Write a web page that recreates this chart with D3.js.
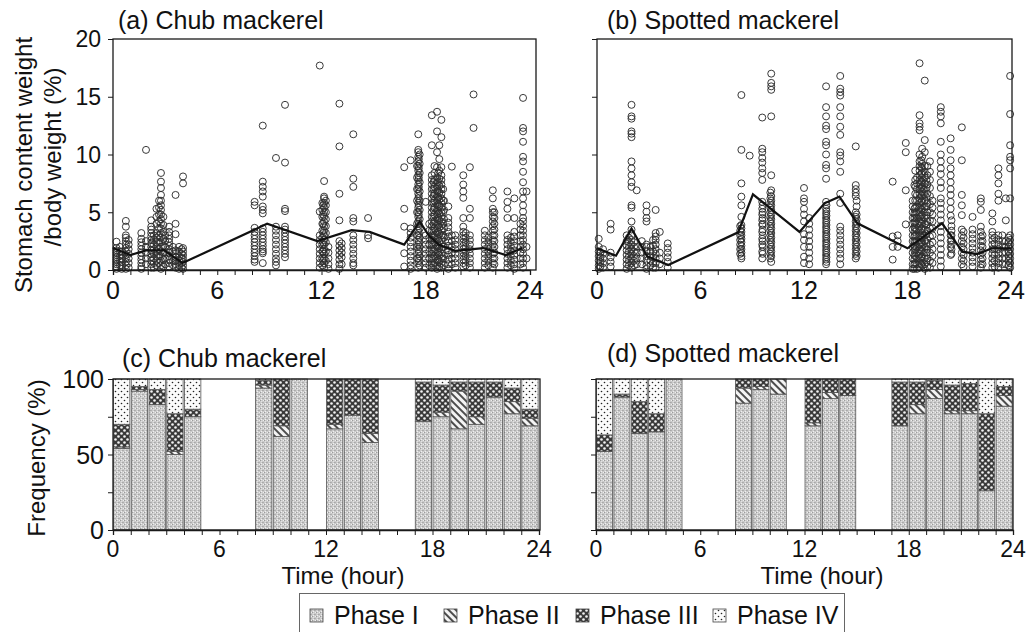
<!DOCTYPE html>
<html><head><meta charset="utf-8">
<script src="https://cdn.jsdelivr.net/npm/d3@7"></script>
<style>
body{margin:0;background:#fff}
text{font-family:"Liberation Sans",Arial,sans-serif;fill:#111}
</style>
</head><body>
<svg id="chart" width="1033" height="632"></svg>
<script>
// ---------- tick labels / categories ----------
const hourTicks = [0, 6, 12, 18, 24];
const hourMinor = [0,1,2,3,4,5,6,7,8,9,10,11,12,13,14,15,16,17,18,19,20,21,22,23,24];
const stomachTicks = [0, 5, 10, 15, 20];
const freqTicks = [0, 50, 100];
const freqMinor = [25, 75];
const phases = ["Phase I", "Phase II", "Phase III", "Phase IV"];

// ---------- (a) Chub mackerel: individual stomach content (%), by sampling time ----------
const chubTimes = [0.2,0.5,0.74,1.63,1.9,2.2,2.5,2.76,3.0,3.23,3.6,3.8,4.03,
  8.15,8.62,9.38,9.9,11.9,12.15,12.4,13.03,13.16,13.83,14.68,
  16.76,17.13,17.57,18.0,18.35,18.65,18.9,19.3,19.5,20.16,20.54,20.75,21.4,21.86,22.7,23.1,23.6,23.8,
  0.4,0.9,2.35,2.65,2.9,3.45,3.95,12.05,12.25,17.5,17.65,18.2,18.5,18.78,19.05,19.7,20.3,21.6,21.95,22.9,23.45,
  17.6,18.45,18.72,19.0,12.1];
const chubValues = [
  [2.45,1.9,1.7,1.5,1.3,1.1,0.9,0.7,0.5,0.3,0.1],
  [1.6,1.3,1.0,0.7,0.4,0.1],
  [4.25,3.75,3.0,2.8,2.5,2.2,1.9,1.6,1.3,1.0,0.7,0.4,0.1],
  [3.2,2.7,2.4,2.1,1.8,1.5,1.2,0.9,0.6,0.3,0.1],
  [10.4,2.5,2.0,1.5,1.0,0.5],
  [4.3,3.75,3.5,3.2,2.9,2.6,2.3,2.0,1.7,1.4,1.1,0.8,0.5,0.2],
  [5.3,4.6,4.0,3.2,2.8,2.4,2.0,1.6,1.2,0.8,0.4],
  [8.4,7.65,7.1,6.5,6.0,5.6,5.2,4.8,4.4,4.0,3.6,3.2,2.8,2.4,2.0,1.6,1.2,0.8,0.4,0.1],
  [3.0,2.5,2.0,1.5,1.0,0.5],
  [3.75,3.3,3.0,2.7,2.4,2.1,1.8,1.5,1.2,0.9,0.6,0.3],
  [6.5,4.0,3.1,1.7,1.4,1.1,0.8,0.5,0.2],
  [2.0,1.6,1.2,0.8,0.4,0.1],
  [8.1,7.5,1.9,1.6,1.3,1.0,0.7,0.4,0.1],
  [5.9,5.6,3.65,3.3,3.0,2.7,2.4,2.1,1.8,1.5,1.2,0.9,0.7],
  [12.5,7.65,7.2,6.8,6.35,5.5,5.2,4.9,3.6,3.3,3.0,2.7,2.4,2.1,1.8,1.6,1.45,0.6],
  [9.7,3.75,3.4,3.0,2.6,2.2,1.8,1.4,1.0,0.7,0.4],
  [14.3,9.3,5.3,5.1,3.75,3.5,3.2,2.9,2.6,2.3,2.0,1.7,1.4,1.1],
  [17.7,5.05,3.0,2.6,2.2,1.8,1.4,1.0,0.6,0.2],
  [7.7,6.35,6.2,5.8,5.4,5.0,4.6,4.2,3.8,3.4,3.0,2.6,2.2,1.8,1.4,1.0,0.6,0.2],
  [2.0,1.5,1.0,0.5,0.1],
  [14.4,10.7,6.6,4.3,2.5,2.1,1.7,1.3,0.9,0.5,0.1],
  [2.3,1.9,1.5,1.1,0.5],
  [11.75,7.9,7.2,4.5,4.2,3.0,2.6,2.2,1.8,1.4,1.0,0.6,0.4],
  [4.5,3.0,2.75],
  [8.9,5.3,3.75,1.45,0.3],
  [9.5,3.6,3.2,2.8,2.4,2.0,1.6,1.2,0.8,0.4,0.1],
  [11.75,10.4,10.2,9.8,9.4,9.0,8.6,8.2,7.8,7.4,7.0,6.6,6.2,5.8,5.4,5.0,4.6,4.2,3.8,3.4,3.0,2.6,2.2,1.8,1.4,1.0,0.6,0.2],
  [5.9,3.0,2.6,2.2,1.8,1.4,1.0,0.6,0.2],
  [13.4,10.8,8.2,7.8,7.4,7.0,6.6,6.2,5.8,5.4,5.0,4.6,4.2,3.8,3.4,3.0,2.6,2.2,1.8,1.4,1.0,0.6,0.2],
  [13.7,12.0,10.2,8.9,8.0,7.6,7.2,6.8,6.4,6.0,5.6,5.2,4.8,4.4,4.0,3.6,3.2,2.8,2.4,2.0,1.6,1.2,0.8,0.4,0.1],
  [13.0,11.5,8.9,8.2,7.8,7.4,7.0,6.6,6.2,5.8,5.4,5.0,4.6,4.2,3.8,3.4,3.0,2.6,2.2,1.8,1.4,1.0,0.6,0.2],
  [5.5,4.5,4.1,3.7,3.3,2.9,2.5,2.1,1.7,1.3,0.9,0.5,0.1],
  [8.95,3.0,2.5,2.0,1.5,1.0,0.5],
  [8.2,7.4,6.8,6.25,4.5,3.75,3.3,3.0,2.7,2.4,2.1,1.8,1.5,1.2,0.9,0.6,0.3],
  [8.9,5.3,4.5,3.0,2.6,2.2,1.8,1.4,1.0,0.6,0.2],
  [15.2,12.3],
  [3.4,3.0,2.6,2.2,1.8,1.4,1.0,0.6,0.2],
  [6.9,6.2,5.3,5.0,4.6,4.2,3.8,3.4,3.0,2.6,2.2,1.8,1.4,1.0,0.6,0.2],
  [6.8,5.9,5.3,4.5,3.0,2.6,2.2,1.8,1.4,1.0,0.6,0.2],
  [6.2,4.5,3.3,2.9,2.5,2.1,1.7,1.3,0.9,0.5,0.1],
  [14.9,12.3,12.0,11.1,9.8,9.4,8.5,7.6,6.8,6.2,5.6,5.05,4.5,4.2,3.8,3.4,3.0,2.6,2.2,1.8,1.4,1.0,0.6,0.2],
  [6.8,2.0,1.0],
  [2.0,1.6,1.2,0.8,0.4],
  [2.6,2.2,1.8,1.4,1.0,0.6,0.2],
  [3.0,2.6,2.2,1.8,1.4,1.0,0.6,0.2],
  [6.0,5.4,4.8,4.2,3.6,3.0,2.4,1.8,1.2,0.6],
  [4.6,3.9,3.3,2.7,2.1,1.5,0.9,0.3],
  [2.0,1.6,1.2,0.8,0.4],
  [1.8,1.4,1.0,0.6,0.2],
  [5.8,5.2,4.6,4.0,3.4,2.8,2.2,1.6,1.0,0.4],
  [6.0,5.6,5.0,4.4,3.8,3.2,2.4,1.6,0.8],
  [9.0,8.0,7.0,6.0,5.0,4.0,3.0,2.0,1.0],
  [10.0,9.2,8.4,7.6,6.8,6.0,5.2,4.4,3.6,2.8,2.0,1.2,0.4],
  [4.0,3.4,2.8,2.2,1.6,1.0,0.4],
  [9.0,8.4,7.8,7.2,6.6,6.0,5.4,4.8,4.2,3.6,3.0,2.4,1.8,1.2,0.6],
  [10.8,9.6,8.6,7.9,7.3,6.7,6.1,5.5,4.9,4.3,3.7,3.1,2.5,1.9,1.3,0.7,0.3],
  [6.0,5.2,4.4,3.6,2.8,2.0,1.2,0.4],
  [3.0,2.6,2.2,1.8,1.4,1.0,0.6,0.2],
  [3.2,2.8,2.4,2.0,1.6,1.2,0.8,0.4],
  [2.8,2.4,2.0,1.6,1.2,0.8,0.4],
  [5.0,4.5,4.0,3.5,3.0,2.5,2.0,1.5,1.0,0.5],
  [2.8,2.4,2.0,1.6,1.2,0.8,0.4],
  [4.0,3.5,3.0,2.5,2.0,1.5,1.0,0.5],
  [9.6,8.8,8.0,7.2,6.4,5.6,4.8,4.0,3.2,2.4,1.6,0.8],
  [7.6,7.0,6.4,5.8,5.2,4.6,4.0,3.4,2.8,2.2,1.6,1.0,0.4],
  [8.4,7.6,6.9,6.3,5.7,5.1,4.5,3.9,3.3,2.7,2.1,1.5,0.9],
  [7.0,6.0,5.0,4.0,3.0,2.0,1.0],
  [5.6,4.8,4.0,3.2,2.4,1.6,0.8]
];
const chubMeanHours = [0,1.0,1.9,2.95,4.0,8.87,11.75,13.73,14.77,16.76,17.65,18.17,18.74,19.69,21.3,22.6,23.56];
const chubMeanValues = [1.9,1.3,1.7,1.7,0.6,4.0,2.5,3.45,3.3,2.2,4.2,3.0,2.2,1.65,1.9,1.3,1.9];

// ---------- (b) Spotted mackerel ----------
const spottedTimes = [0.1,0.35,0.79,1.72,2.0,2.3,2.87,3.4,3.64,4.1,
  8.37,8.85,9.58,10.1,12.0,12.3,13.28,14.1,15.0,
  17.14,17.43,17.9,18.4,18.7,19.0,19.3,19.93,20.5,21.15,21.77,22.25,22.92,23.27,23.7,23.95,
  0.2,1.85,2.15,2.6,3.1,3.25,8.3,9.6,10.05,13.3,15.05,18.3,18.55,18.85,19.15,19.45,20.55,21.25,22.35,23.05,23.5,23.85,
  18.45,18.8,19.1];
const spottedValues = [
  [2.7,2.0,1.6,1.2,0.8,0.4,0.1],
  [1.8,1.4,1.0,0.6,0.2],
  [4.0,3.5,1.5,1.1,0.7,0.3],
  [3.0,2.5,2.1,1.7,1.3,0.9,0.5,0.1],
  [14.3,13.3,13.1,12.0,11.8,11.5,9.4,8.8,8.2,7.6,7.2,5.6,5.4,4.2,3.5,3.0,2.6,2.2,1.8,1.4,1.0,0.6,0.2],
  [6.9,2.0,1.5,1.0,0.5],
  [5.6,5.05,4.5,4.2,2.2,2.0,1.6,1.2,0.8,0.4,0.1],
  [5.2,3.2,2.9,2.6,2.2,1.8,1.4,1.0,0.6,0.2],
  [3.3,1.5,1.0,0.5],
  [2.3,1.9,1.5,1.1,0.7,0.2],
  [15.15,10.4,7.5,6.35,5.6,4.6,3.9,3.6,3.3,3.0,2.7,2.4,2.1,1.8,1.5,1.2,1.0],
  [9.9],
  [13.2,10.5,10.2,9.7,9.3,8.8,8.4,7.8,5.9,5.3,4.8,4.3,3.9,3.3,2.7,2.2,1.6,1.0],
  [17.0,16.2,15.9,15.6,13.3,8.2,6.9,6.4,6.0,5.6,5.2,4.8,4.4,4.0,3.6,3.2,2.8,2.4,2.0,1.6,1.2,0.7],
  [7.1,6.2,5.9,5.3,4.8,4.2,3.1,2.6,2.0,1.15,0.6],
  [4.5,4.0,3.5,3.0,2.5,2.0,1.5,1.0,0.5],
  [15.9,14.1,13.3,12.5,12.2,11.1,10.8,10.0,9.1,8.8,7.9,5.9,5.3,4.9,4.5,4.1,3.7,3.3,2.9,2.5,2.1,1.7,1.3,0.9,0.5],
  [16.8,15.7,15.4,15.1,14.1,13.3,12.4,11.7,10.2,9.9,9.4,8.5,6.6,5.8,3.75,3.4,3.0,2.6,2.2,1.8,1.4,1.0,0.5],
  [10.7,7.35,7.0,6.7,6.4,5.0,4.6,4.2,3.8,3.4,3.0,2.6,2.2,1.8,1.4,1.0],
  [7.65,2.9,2.0,0.9],
  [3.0,2.5,2.0],
  [11.0,10.2,6.9,3.95],
  [7.35,5.3,4.9,4.5,4.1,3.7,3.3,2.9,2.5,2.1,1.7,1.3,0.9,0.5,0.1],
  [17.9,13.4,12.7,12.4,12.1,10.0,9.4,9.0,8.6,8.2,7.8,7.4,7.0,6.6,6.2,5.8,5.4,5.0,4.6,4.2,3.8,3.4,3.0,2.6,2.2,1.8,1.4,1.0,0.6,0.2],
  [16.4,11.25,10.2,9.0,8.5,8.0,7.5,7.0,6.5,6.0,5.5,5.0,4.5,4.0,3.5,3.0,2.5,2.0,1.5,1.0,0.5,0.1],
  [9.4,8.5,7.8,7.1,6.4,5.7,5.0,4.3,3.6,2.9,2.2,1.5,0.8,0.2],
  [14.1,13.7,13.3,12.7,11.1,10.0,9.4,8.8,8.3,7.6,7.1,6.2,5.8,5.3,4.8,4.3,3.8,3.3,2.8,2.3,1.8,1.3,0.8,0.3],
  [11.4,10.4,9.5,8.8,8.2,7.6,7.0,6.5,5.9,5.3,4.7,3.0,2.5,2.0,1.3],
  [12.35,9.5,6.5,5.6,4.75,3.5,3.0,2.5,2.0,1.5,1.0,0.5],
  [4.6,3.5,3.1,2.7,2.3,1.9,1.5,1.1,0.7,0.3],
  [6.2,5.9,5.2,3.75,3.3,2.9,2.5,2.1,1.7,1.3,0.9,0.5,0.2],
  [4.9,4.2,3.3,3.0,2.6,2.2,1.8,1.4,1.0,0.6,0.2],
  [8.8,8.2,7.5,6.6,6.0,3.0,2.6,2.2,1.8,1.4,1.0,0.6,0.2],
  [6.2,4.3,2.5,2.0,1.5,1.0,0.5],
  [16.8,13.5,10.8,9.8,9.5,8.8,6.2,3.0,2.6,2.2,1.8,1.4,1.0,0.6,0.2],
  [1.5,1.1,0.7,0.3],
  [2.8,2.4,2.0,1.6,1.2,0.8,0.4],
  [2.4,2.0,1.6,1.2,0.8,0.4],
  [2.5,2.0,1.5,1.0,0.5],
  [2.0,1.6,1.2,0.8,0.4],
  [2.6,2.1,1.6,1.1,0.6,0.2],
  [3.8,3.4,3.0,2.6,2.2,1.8,1.4],
  [5.6,5.0,4.5,4.0,3.5,3.0,2.5,2.0,1.4],
  [6.7,6.2,5.8,5.4,5.0,4.6,4.2,3.8,3.4,3.0,2.6,2.2,1.8,1.4,1.0],
  [5.6,5.1,4.7,4.3,3.9,3.5,3.1,2.7,2.3,1.9,1.5,1.1,0.7],
  [6.0,5.5,4.8,4.4,4.0,3.6,3.2,2.8,2.4,2.0,1.6,1.2],
  [6.0,5.5,5.0,4.5,4.0,3.5,3.0,2.5,2.0,1.5,1.0,0.5,0.1],
  [8.0,7.5,7.0,6.5,6.0,5.5,5.0,4.5,4.0,3.5,3.0,2.5,2.0,1.5,1.0,0.5,0.1],
  [10.5,9.8,9.2,8.8,8.4,8.0,7.6,7.2,6.8,6.4,6.0,5.6,5.2,4.8,4.4,4.0,3.6,3.2,2.8,2.4,2.0,1.6,1.2,0.8,0.4],
  [9.0,8.2,7.4,6.6,5.8,5.0,4.2,3.4,2.6,1.8,1.0,0.3],
  [6.0,5.4,4.8,4.2,3.6,3.0,2.4,1.8,1.2,0.6],
  [4.3,3.8,3.4,3.0,2.6,2.2,1.8,1.4],
  [3.3,2.8,2.3,1.8,1.3,0.8,0.3],
  [3.0,2.5,2.0,1.5,1.0,0.5],
  [2.8,2.3,1.8,1.3,0.8,0.3],
  [3.0,2.5,2.0,1.5,1.0,0.5],
  [2.8,2.4,2.0,1.6,1.2,0.8,0.4],
  [8.6,7.8,7.2,6.6,6.0,5.4,4.8,4.2,3.6,3.0,2.4,1.8,1.2,0.6],
  [9.5,8.9,8.3,7.7,7.1,6.5,5.9,5.3,4.7,4.1,3.5,2.9,2.3,1.7,1.1,0.5],
  [7.8,7.1,6.3,5.5,4.7,3.9,3.1,2.3,1.5,0.7]
];
const spottedMeanHours = [0,1.1,2.0,2.9,4.13,8.18,9.04,11.74,13.19,14.05,15.1,18.0,20.0,21.19,22.05,22.9,24.0];
const spottedMeanValues = [1.88,1.24,3.6,1.2,0.43,3.26,6.55,3.3,5.77,6.35,4.04,1.88,4.04,1.59,1.38,1.88,1.88];

// ---------- (c)/(d) digestion phase frequency (%) per hour bin ----------
const barHours = [0,1,2,3,4,8,9,10,12,13,14,17,18,19,20,21,22,23];
const chubPhaseI   = [54,92,83,50,75,94,62,100,67,76,58,72,75,67,70,88,77,69];
const chubPhaseII  = [1,1,0,2,0,2,7,0,3,0,6,0,3,25,5,0,8,5];
const chubPhaseIII = [15,2,10,25,5,3,31,0,30,24,36,26,18,6,23,10,9,6];
const chubPhaseIV  = [30,5,7,23,20,1,0,0,0,0,0,2,4,2,2,2,6,20];
const spottedPhaseI   = [52,88,64,65,100,84,93,90,69,87,89,69,77,87,77,77,26,82];
const spottedPhaseII  = [0,0,0,0,0,10,2,10,2,4,0,0,6,6,2,2,0,7];
const spottedPhaseIII = [11,2,21,12,0,6,5,0,29,9,11,29,15,6,17,18,51,6];
const spottedPhaseIV  = [37,10,15,23,0,0,0,0,0,0,0,2,2,1,4,3,23,5];

// ---------- drawing ----------
const svg = d3.select("#chart");
const defs = svg.append("defs");
function pattern(id, w, h, rot) {
  const p = defs.append("pattern").attr("id", id).attr("patternUnits", "userSpaceOnUse")
    .attr("width", w).attr("height", h);
  if (rot) p.attr("patternTransform", "rotate(" + rot + ")");
  return p;
}
{
  const p = pattern("ph1", 4, 4);
  p.append("rect").attr("width", 4).attr("height", 4).attr("fill", "#cbcbcb");
  [[0,0,"#9c9c9c"],[2,2,"#a8a8a8"],[3,0,"#eeeeee"],[1,3,"#f0f0f0"],[1,1,"#e2e2e2"],[3,2,"#b0b0b0"]].forEach(d =>
    p.append("rect").attr("x", d[0]).attr("y", d[1]).attr("width", 1).attr("height", 1).attr("fill", d[2]));
}
{
  const p = pattern("ph2", 5, 5, -45);
  p.append("rect").attr("width", 5).attr("height", 5).attr("fill", "#f4f4f4");
  p.append("line").attr("x1", 1).attr("y1", 0).attr("x2", 1).attr("y2", 5).attr("stroke", "#222").attr("stroke-width", 1.6);
}
{
  const p = pattern("ph3", 6, 6);
  p.append("rect").attr("width", 6).attr("height", 6).attr("fill", "#3a3a3a");
  p.append("circle").attr("cx", 1.5).attr("cy", 1.5).attr("r", 1.3).attr("fill", "#f2f2f2");
  p.append("circle").attr("cx", 4.5).attr("cy", 4.5).attr("r", 1.3).attr("fill", "#f2f2f2");
}
{
  const p = pattern("ph4", 6, 6);
  p.append("rect").attr("width", 6).attr("height", 6).attr("fill", "#fbfbfb");
  p.append("circle").attr("cx", 1.5).attr("cy", 1.5).attr("r", 0.8).attr("fill", "#222");
  p.append("circle").attr("cx", 4.5).attr("cy", 4.5).attr("r", 0.8).attr("fill", "#222");
}
const phaseFill = ["url(#ph1)", "url(#ph2)", "url(#ph3)", "url(#ph4)"];

const AX = "#1a1a1a";

function xAxes(g, x, y0) {
  g.append("g").attr("transform", `translate(0,${y0})`)
    .call(d3.axisBottom(x).tickValues(hourMinor).tickSize(5).tickFormat(""))
    .call(s => { s.select(".domain").attr("stroke", AX).attr("stroke-width", 1.3); s.selectAll("line").attr("stroke", AX); });
}
function xLabels(g, x, baseline, size) {
  g.selectAll(null).data(hourTicks).enter().append("text")
    .attr("x", d => x(d)).attr("y", baseline).attr("text-anchor", "middle")
    .attr("font-size", size).text(d => d);
}
function frame(g, x0, x1, y0, y1) {
  g.append("rect").attr("x", x0).attr("y", y0).attr("width", x1 - x0).attr("height", y1 - y0)
    .attr("fill", "none").attr("stroke", AX).attr("stroke-width", 1.3);
}

function scatterPanel(cfg) {
  const g = svg.append("g");
  const x = d3.scaleLinear().domain([0, 24]).range([cfg.x0, cfg.x24]);
  const y = d3.scaleLinear().domain([0, 20]).range([cfg.yb, cfg.yt]);
  const pts = [];
  cfg.times.forEach((t, i) => cfg.values[i].forEach(v => pts.push([t, v])));
  g.selectAll("circle").data(pts).enter().append("circle")
    .attr("cx", d => x(d[0])).attr("cy", d => y(d[1])).attr("r", 3.5)
    .attr("fill", "none").attr("stroke", "#2e2e2e").attr("stroke-width", 0.95);
  const line = d3.line().x(d => x(d[0])).y(d => y(d[1]));
  g.append("path").datum(cfg.mh.map((h, i) => [h, cfg.mv[i]]))
    .attr("d", line).attr("fill", "none").attr("stroke", "#111").attr("stroke-width", 2.2);
  frame(g, cfg.x0, cfg.xr, cfg.yt, cfg.yb);
  g.append("g").attr("transform", `translate(${cfg.x0},0)`)
    .call(d3.axisLeft(y).tickValues(stomachTicks).tickSize(5).tickFormat(""))
    .call(s => { s.select(".domain").remove(); s.selectAll("line").attr("stroke", AX); });
  if (cfg.labels) {
    g.selectAll(null).data(stomachTicks).enter().append("text")
      .attr("x", cfg.x0 - 12).attr("y", d => y(d)).attr("dy", "0.36em")
      .attr("text-anchor", "end").attr("font-size", 23).text(d => d);
  }
  xAxes(g, x, cfg.yb);
  xLabels(g, x, 299, 25);
  g.append("text").attr("x", cfg.tx).attr("y", 29).attr("font-size", 25).text(cfg.title);
}

function barPanel(cfg) {
  const g = svg.append("g");
  const x = d3.scaleLinear().domain([0, 24]).range([cfg.x0, cfg.x24]);
  const y = d3.scaleLinear().domain([0, 100]).range([530, 379]);
  const rows = barHours.map((h, i) => ({ h, I: cfg.s[0][i], II: cfg.s[1][i], III: cfg.s[2][i], IV: cfg.s[3][i] }));
  const stack = d3.stack().keys(["I", "II", "III", "IV"])(rows);
  stack.forEach((layer, k) => {
    g.selectAll(null).data(layer.filter(d => d[1] - d[0] > 0)).enter().append("rect")
      .attr("x", d => x(d.data.h + 0.03)).attr("width", d => x(d.data.h + 0.95) - x(d.data.h + 0.03))
      .attr("y", d => y(d[1])).attr("height", d => y(d[0]) - y(d[1]))
      .attr("fill", phaseFill[k]).attr("stroke", "#555").attr("stroke-width", 0.8);
  });
  frame(g, cfg.x0, cfg.xr, 379, 530);
  g.append("g").attr("transform", `translate(${cfg.x0},0)`)
    .call(d3.axisLeft(y).tickValues(freqTicks.concat(freqMinor)).tickSize(5).tickFormat(""))
    .call(s => { s.select(".domain").remove(); s.selectAll("line").attr("stroke", AX); });
  if (cfg.labels) {
    g.selectAll(null).data(freqTicks).enter().append("text")
      .attr("x", cfg.x0 - 9).attr("y", d => y(d)).attr("dy", "0.36em")
      .attr("text-anchor", "end").attr("font-size", 25).text(d => d);
  }
  xAxes(g, x, 530);
  xLabels(g, x, 557, 23);
  g.append("text").attr("x", cfg.tx).attr("y", cfg.ty).attr("font-size", 25).text(cfg.title);
  g.append("text").attr("x", cfg.timeX).attr("y", 584).attr("text-anchor", "middle").attr("font-size", 24).text("Time (hour)");
}

scatterPanel({ x0: 113, x24: 530, xr: 536, yt: 39, yb: 270, times: chubTimes, values: chubValues,
  mh: chubMeanHours, mv: chubMeanValues, labels: true, title: "(a) Chub mackerel", tx: 118 });
scatterPanel({ x0: 597, x24: 1011, xr: 1012, yt: 39, yb: 270, times: spottedTimes, values: spottedValues,
  mh: spottedMeanHours, mv: spottedMeanValues, labels: false, title: "(b) Spotted mackerel", tx: 607 });
barPanel({ x0: 113, x24: 539, xr: 540, s: [chubPhaseI, chubPhaseII, chubPhaseIII, chubPhaseIV],
  labels: true, title: "(c) Chub mackerel", tx: 122, ty: 367, timeX: 343 });
barPanel({ x0: 596, x24: 1013, xr: 1013, s: [spottedPhaseI, spottedPhaseII, spottedPhaseIII, spottedPhaseIV],
  labels: false, title: "(d) Spotted mackerel", tx: 607, ty: 362, timeX: 822 });

// y-axis titles
svg.append("text").attr("transform", "translate(32,165) rotate(-90)").attr("text-anchor", "middle")
  .attr("font-size", 24).text("Stomach content weight");
svg.append("text").attr("transform", "translate(61,157) rotate(-90)").attr("text-anchor", "middle")
  .attr("font-size", 24).text("/body weight (%)");
svg.append("text").attr("transform", "translate(45,458) rotate(-90)").attr("text-anchor", "middle")
  .attr("font-size", 24).text("Frequency (%)");

// legend
const lg = svg.append("g");
lg.append("rect").attr("x", 299.5).attr("y", 593.5).attr("width", 545).attr("height", 50)
  .attr("fill", "#fff").attr("stroke", "#666").attr("stroke-width", 1);
const legX = [310, 444, 576, 713];
phases.forEach((p, i) => {
  lg.append("rect").attr("x", legX[i]).attr("y", 609).attr("width", 13).attr("height", 13)
    .attr("fill", phaseFill[i]).attr("stroke", "#444").attr("stroke-width", 0.8);
  lg.append("text").attr("x", legX[i] + 24).attr("y", 624).attr("font-size", 25).text(p);
});
</script>
</body></html>
